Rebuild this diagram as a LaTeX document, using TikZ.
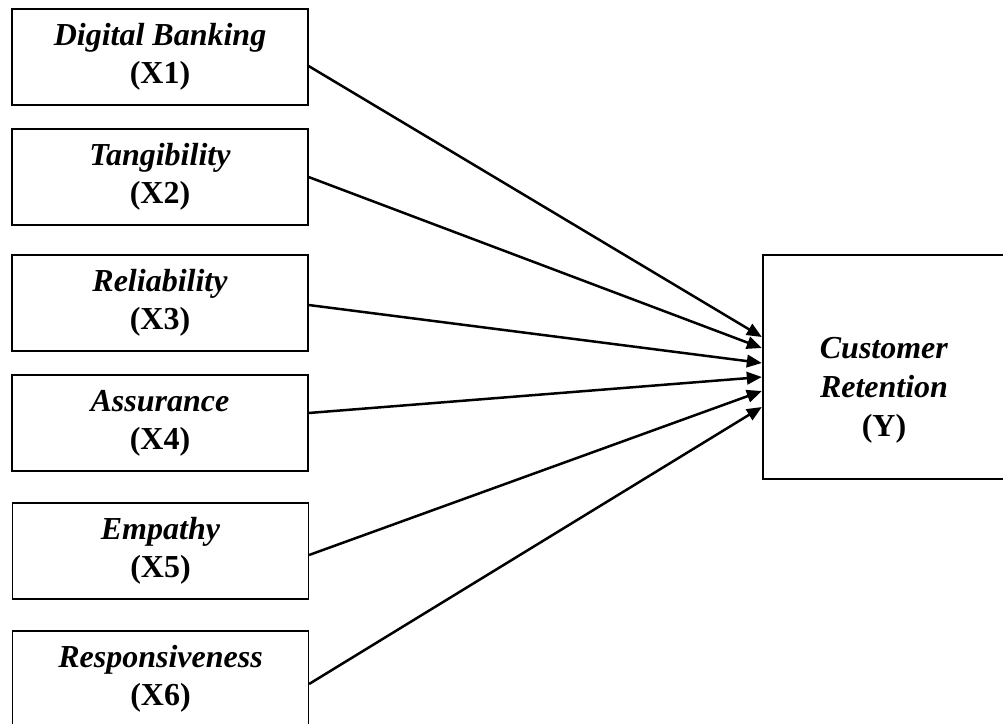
\documentclass[tikz,border=0pt]{standalone}
\usepackage{fontspec}
\setmainfont{Liberation Serif}
\usepackage{tikz}
\usetikzlibrary{calc, positioning, arrows.meta}
\tikzstyle{var}=[draw, shape=rectangle, line width=0.7pt, minimum width=177.6pt, minimum height=57.6pt, inner sep=0pt, align=center, font=\fontsize{19.2}{22.8}\selectfont\bfseries]
\tikzstyle{dep}=[draw, shape=rectangle, line width=1.4pt, minimum width=150pt, minimum height=134.4pt, inner sep=0pt]
\tikzstyle{path}=[->, line width=1.5pt]
\tikzset{>={Triangle[length=9pt, width=7.5pt]}}

\begin{document}
\begin{tikzpicture}[x=0.6pt, y=-0.6pt]
\useasboundingbox (0,0) rectangle (1003,724);
\clip (0,0) rectangle (1003,724);
% the six independent variables
\node[var] (X1) at (160, 57) {\textit{Digital Banking}\\(X1)};
\node[var] (X2) at (160, 177) {\textit{Tangibility}\\(X2)};
\node[var] (X3) at (160, 303) {\textit{Reliability}\\(X3)};
\node[var] (X4) at (160, 423) {\textit{Assurance}\\(X4)};
\node[var] (X5) at (160.5, 551) {\textit{Empathy}\\(X5)};
\node[var] (X6) at (160.5, 679) {\textit{Responsiveness}\\(X6)};
% the dependent variable
\node[dep] (Y) at (888, 367) {};
\node[align=center, inner sep=0pt, font=\fontsize{19.2}{23.4}\selectfont\bfseries] (Ylab) at (884, 390) {\textit{Customer}\\\textit{Retention}\\(Y)};
% the paths
\draw[path] ([yshift=-5.4pt]X1.east) -- ([yshift=18pt]Y.west);
\draw[path] (X2.east) -- ([yshift=11.4pt]Y.west);
\draw[path] ([yshift=-1.2pt]X3.east) -- ([yshift=2.4pt]Y.west);
\draw[path] ([yshift=6pt]X4.east) -- ([yshift=-6pt]Y.west);
\draw[path] ([yshift=-2.4pt]X5.east) -- ([yshift=-14.4pt]Y.west);
\draw[path] ([yshift=-3pt]X6.east) -- ([yshift=-24pt]Y.west);
\end{tikzpicture}
\end{document}
